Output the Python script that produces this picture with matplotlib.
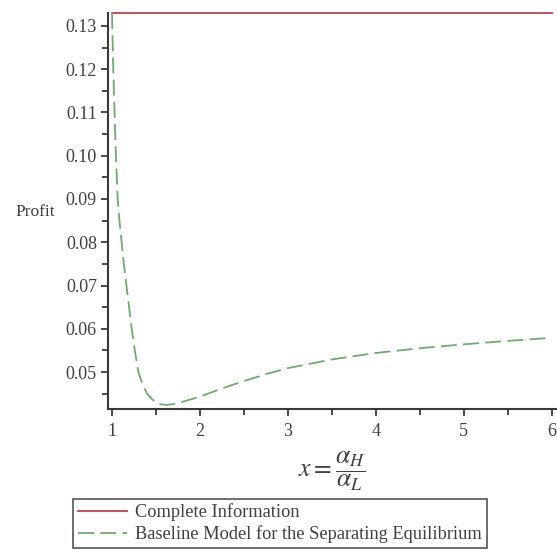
import matplotlib
matplotlib.use("Agg")
import matplotlib.pyplot as plt
from matplotlib.ticker import MultipleLocator, FixedLocator
from matplotlib.lines import Line2D

# Profit under complete information (constant)
complete_x = [1.0, 6.0]
complete_profit = [0.1330, 0.1330]

# Profit in the baseline model for the separating equilibrium
ratio_x = [1.0, 1.015, 1.03, 1.045, 1.065, 1.085, 1.11, 1.135, 1.165, 1.195,
           1.225, 1.26, 1.30, 1.35, 1.40, 1.45, 1.50, 1.56, 1.63, 1.70,
           1.80, 1.90, 2.0, 2.25, 2.5, 2.75, 3.0, 3.5, 4.0, 4.5,
           5.0, 5.5, 6.0]
separating_profit = [0.1330, 0.120, 0.110, 0.100, 0.090, 0.085, 0.080, 0.075, 0.070, 0.065,
                     0.060, 0.055, 0.050, 0.0470, 0.0450, 0.0438, 0.0430, 0.0425, 0.0424, 0.0426,
                     0.0431, 0.0437, 0.0443, 0.0462, 0.0479, 0.0495, 0.0509, 0.0529, 0.0544, 0.0555,
                     0.0564, 0.0572, 0.0579]

x_ticks = [1, 2, 3, 4, 5, 6]
y_ticks = [0.05, 0.06, 0.07, 0.08, 0.09, 0.10, 0.11, 0.12, 0.13]
y_tick_labels = ["0.05", "0.06", "0.07", "0.08", "0.09", "0.10", "0.11", "0.12", "0.13"]

series_labels = ["Complete Information", "Baseline Model for the Separating Equilibrium"]

plt.rcParams["font.family"] = ["Liberation Serif", "DejaVu Serif"]
plt.rcParams["mathtext.fontset"] = "stix"
plt.rcParams["lines.scale_dashes"] = False

W, H = 557, 550
fig = plt.figure(figsize=(W / 100, H / 100), dpi=100)
left, right, top, bottom = 108, 556, 13, 409
ax = fig.add_axes([left / W, 1 - bottom / H, (right - left) / W, (bottom - top) / H])

red = "#c8404c"
green = "#6faa6f"
axis_col = "#3a3a3a"
text_col = "#404040"
dash = (11.5, 4.5)

ax.plot(complete_x, complete_profit, color=red, lw=1.3, clip_on=False, zorder=3)
ax.plot(ratio_x, separating_profit, color=green, lw=1.3, dashes=dash,
        clip_on=False, zorder=3)

ax.set_xlim(0.955, 6.05)
ax.set_ylim(0.04145, 0.1330)

for s in ["top", "right"]:
    ax.spines[s].set_visible(False)
for s in ["left", "bottom"]:
    ax.spines[s].set_color(axis_col)
    ax.spines[s].set_linewidth(1.5)

ax.xaxis.set_major_locator(FixedLocator(x_ticks))
ax.xaxis.set_minor_locator(MultipleLocator(0.5))
ax.yaxis.set_major_locator(FixedLocator(y_ticks))
ax.set_yticklabels(y_tick_labels)
ax.yaxis.set_minor_locator(MultipleLocator(0.005))

ax.tick_params(axis="both", which="both", direction="out", color=axis_col,
               labelcolor=text_col, labelsize=13, width=1.3)
ax.tick_params(axis="both", which="major", length=5, pad=3)
ax.tick_params(axis="both", which="minor", length=4)
ax.tick_params(axis="x", which="major", pad=5)

ax.set_xlabel(r"$x = \dfrac{\alpha_H}{\alpha_L}$", fontsize=18.5, color=text_col, labelpad=7)
fig.text(35 / W, 1 - 212 / H, "Profit", ha="center", va="center", fontsize=12.5, color=text_col)

handles = [Line2D([], [], color=red, lw=1.3),
           Line2D([], [], color=green, lw=1.3, dashes=dash)]
leg = fig.legend(handles, series_labels, loc="upper left",
                 bbox_to_anchor=(73 / W, 1 - 499 / H), fontsize=13.2,
                 frameon=True, fancybox=False, handlelength=2.7, handletextpad=0.45,
                 borderpad=0.25, labelspacing=0.22, borderaxespad=0)
leg.get_frame().set_edgecolor(axis_col)
leg.get_frame().set_linewidth(1.3)
for t in leg.get_texts():
    t.set_color(text_col)

fig.savefig("out.png", dpi=100, facecolor="white")
